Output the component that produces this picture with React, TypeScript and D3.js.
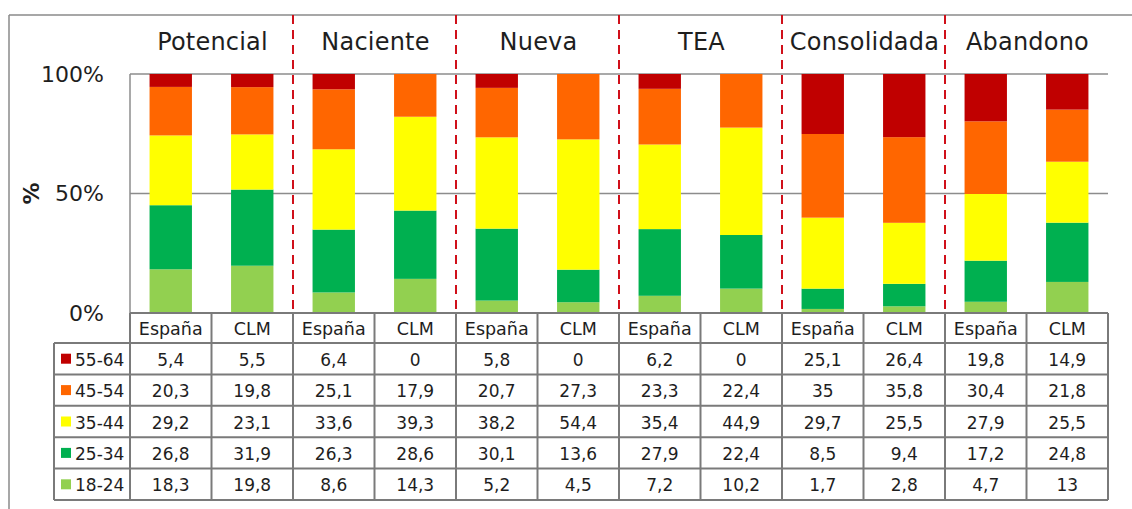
import React from "react";
import * as d3 from "d3";

const groups = ["Potencial", "Naciente", "Nueva", "TEA", "Consolidada", "Abandono"];
const regions = ["España", "CLM"];
const ageGroups = ["55-64", "45-54", "35-44", "25-34", "18-24"];
const ageColors = ["#C00000", "#FF6600", "#FFFF00", "#00B050", "#92D050"];
const v55_64 = [5.4, 5.5, 6.4, 0, 5.8, 0, 6.2, 0, 25.1, 26.4, 19.8, 14.9];
const v45_54 = [20.3, 19.8, 25.1, 17.9, 20.7, 27.3, 23.3, 22.4, 35, 35.8, 30.4, 21.8];
const v35_44 = [29.2, 23.1, 33.6, 39.3, 38.2, 54.4, 35.4, 44.9, 29.7, 25.5, 27.9, 25.5];
const v25_34 = [26.8, 31.9, 26.3, 28.6, 30.1, 13.6, 27.9, 22.4, 8.5, 9.4, 17.2, 24.8];
const v18_24 = [18.3, 19.8, 8.6, 14.3, 5.2, 4.5, 7.2, 10.2, 1.7, 2.8, 4.7, 13];
const yTicks = [0, 0.5, 1];
const yTickLabels = ["0%", "50%", "100%"];

const seriesValues: Record<string, number[]> = {
  "55-64": v55_64,
  "45-54": v45_54,
  "35-44": v35_44,
  "25-34": v25_34,
  "18-24": v18_24,
};

const W = 1132;
const H = 509;
const FONT = "'DejaVu Sans', sans-serif";
const TXT = "#1e1e1e";

export default function App() {
  const left = 130;
  const right = 1108;
  const top = 74;
  const bottom = 313;
  const keys = groups.flatMap((g) => regions.map((r) => g + "|" + r));
  const x = d3.scaleBand<string>().domain(keys).range([left, right]).padding(0);
  const gx = d3.scaleBand<string>().domain(groups).range([left, right]).padding(0);
  const y = d3.scaleLinear().domain([0, 1]).range([bottom, top]);
  const bw = x.bandwidth() * 0.52;

  const rows = keys.map((k, i) => {
    const o: any = { key: k };
    ageGroups.forEach((a) => (o[a] = seriesValues[a][i]));
    return o;
  });
  const stackOrder = [...ageGroups].reverse();
  const stack = d3.stack<any>().keys(stackOrder).offset(d3.stackOffsetExpand);
  const series = stack(rows);

  const headerTop = bottom;
  const headerH = 30;
  const rowH = 31.4;
  const legendLeft = 54;
  const tableRowTops = ageGroups.map((_, i) => headerTop + headerH + i * rowH);
  const tableBottom = headerTop + headerH + ageGroups.length * rowH;
  const lineColor = "#7a7a7a";

  return (
    <svg
      width={W}
      height={H}
      style={{ position: "absolute", left: 0, top: 0, background: "#fff" }}
      fontFamily={FONT}
    >
      <rect x={0} y={0} width={W} height={H} fill="#fff" />
      {/* outer frame */}
      <line x1={9} x2={W} y1={15} y2={15} stroke="#8a8a8a" strokeWidth={1.5} />
      <line x1={9} x2={9} y1={15} y2={H} stroke="#8a8a8a" strokeWidth={1.5} />

      {/* gridlines */}
      {yTicks.slice(1).map((t) => (
        <line key={t} x1={left} x2={right} y1={y(t)} y2={y(t)} stroke="#8c8c8c" strokeWidth={1.5} />
      ))}
      <line x1={left} x2={left} y1={top} y2={bottom} stroke="#8c8c8c" strokeWidth={1.5} />

      {/* bars */}
      {series.map((s) => {
        const color = ageColors[ageGroups.indexOf(s.key)];
        return (
          <g key={s.key}>
            {s.map((d, i) => (
              <rect
                key={i}
                x={(x(keys[i]) as number) + (x.bandwidth() - bw) / 2}
                y={y(d[1])}
                width={bw}
                height={Math.max(0, y(d[0]) - y(d[1]))}
                fill={color}
              />
            ))}
          </g>
        );
      })}

      {/* y tick labels */}
      {yTicks.map((t, i) => (
        <text key={t} x={104} y={y(t)} textAnchor="end" dominantBaseline="central" fontSize={22} fill={TXT}>
          {yTickLabels[i]}
        </text>
      ))}
      <text
        transform={`translate(31,${y(0.5)}) rotate(-90)`}
        textAnchor="middle"
        dominantBaseline="central"
        fontSize={22}
        fontWeight="bold"
        fill={TXT}
      >
        %
      </text>

      {/* dashed separators */}
      {groups.slice(1).map((g) => (
        <line
          key={g}
          x1={gx(g) as number}
          x2={gx(g) as number}
          y1={15}
          y2={bottom}
          stroke="#D0101A"
          strokeWidth={2}
          strokeDasharray="9,6"
        />
      ))}

      {/* group titles */}
      {groups.map((g) => (
        <text
          key={g}
          x={(gx(g) as number) + gx.bandwidth() / 2 + 1}
          y={42}
          textAnchor="middle"
          dominantBaseline="central"
          fontSize={24}
          letterSpacing={0.2}
          fill={TXT}
        >
          {g}
        </text>
      ))}

      {/* table */}
      <line x1={left} x2={right} y1={headerTop} y2={headerTop} stroke={lineColor} strokeWidth={2} />
      {[...tableRowTops, tableBottom].map((ty, i) => (
        <line key={i} x1={legendLeft} x2={right} y1={ty} y2={ty} stroke={lineColor} strokeWidth={2} />
      ))}
      <line x1={legendLeft} x2={legendLeft} y1={tableRowTops[0]} y2={tableBottom} stroke={lineColor} strokeWidth={2} />
      {[...keys.map((k) => x(k) as number), right].map((vx, i) => (
        <line key={i} x1={vx} x2={vx} y1={headerTop} y2={tableBottom} stroke={lineColor} strokeWidth={2} />
      ))}
      {keys.map((k) => (
        <text
          key={k}
          x={(x(k) as number) + x.bandwidth() / 2}
          y={headerTop + headerH / 2 + 1}
          textAnchor="middle"
          dominantBaseline="central"
          fontSize={17.5}
          fill={TXT}
        >
          {k.split("|")[1]}
        </text>
      ))}
      {ageGroups.map((a, ri) => (
        <g key={a}>
          <rect x={61} y={tableRowTops[ri] + rowH / 2 - 5} width={10} height={10} fill={ageColors[ri]} />
          <text x={75} y={tableRowTops[ri] + rowH / 2 + 1} dominantBaseline="central" fontSize={17} fill={TXT}>
            {a}
          </text>
          {keys.map((k, ci) => (
            <text
              key={k}
              x={(x(k) as number) + x.bandwidth() / 2}
              y={tableRowTops[ri] + rowH / 2 + 1}
              textAnchor="middle"
              dominantBaseline="central"
              fontSize={17}
              fill={TXT}
            >
              {String(seriesValues[a][ci]).replace(".", ",")}
            </text>
          ))}
        </g>
      ))}
    </svg>
  );
}
